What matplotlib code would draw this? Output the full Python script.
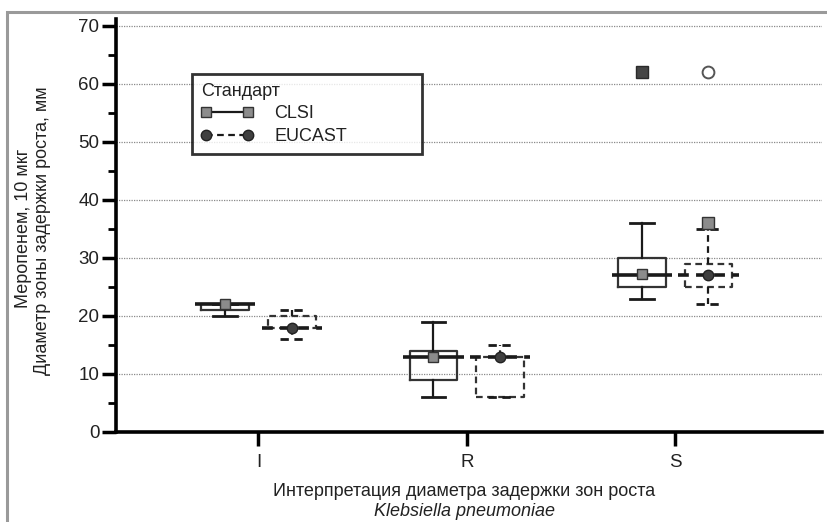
import numpy as np
import matplotlib
matplotlib.use("Agg")
import matplotlib.pyplot as plt
from matplotlib.lines import Line2D
from matplotlib.patches import Rectangle

plt.rcParams["font.family"] = ["Liberation Sans", "DejaVu Sans"]

# data (zone diameters, mm)
categories = ["I", "R", "S"]
clsi_q1 = [21, 9, 25]
clsi_med = [22, 13, 27]
clsi_q3 = [22, 14, 30]
clsi_lo = [20, 6, 23]
clsi_hi = [22, 19, 36]
clsi_mean = [22, 13, 27.3]

eucast_q1 = [18, 6, 25]
eucast_med = [18, 13, 27]
eucast_q3 = [20, 13, 29]
eucast_lo = [16, 6, 22]
eucast_hi = [21, 15, 35]
eucast_mean = [18, 13, 27]

# extra points on S
clsi_out_y = [62]
eucast_out_y = [62]
eucast_max_y = [36]


def make_stats(q1, med, q3, lo, hi, mean):
    return [dict(q1=a, med=b, q3=c, whislo=d, whishi=e, mean=f, fliers=[])
            for a, b, c, d, e, f in zip(q1, med, q3, lo, hi, mean)]


fig = plt.figure(figsize=(8.27, 5.22), dpi=100)
ax = fig.add_axes([116 / 827, 1 - 432 / 522, (822 - 116) / 827, 413 / 522])

x = np.arange(1, len(categories) + 1)
off = 0.16
bw = 0.23
mw = 0.29
cw = 0.115
dark = "#1a1a1a"
txt = "#222222"
dash = (0, (3, 2))
fs = 13

groups = [
    ("CLSI", x - off, make_stats(clsi_q1, clsi_med, clsi_q3, clsi_lo, clsi_hi, clsi_mean),
     clsi_med, "-", dict(marker="s", markerfacecolor="#8c8c8c", markeredgecolor="#333333",
                         markersize=7.5, markeredgewidth=1.0)),
    ("EUCAST", x + off, make_stats(eucast_q1, eucast_med, eucast_q3, eucast_lo, eucast_hi, eucast_mean),
     eucast_med, dash, dict(marker="o", markerfacecolor="#404040", markeredgecolor="#222222",
                            markersize=7.5, markeredgewidth=1.0)),
]

handles = []
for name, pos, stats, med, ls, mprops in groups:
    ax.bxp(stats, positions=pos, widths=bw, capwidths=cw, showfliers=False,
           showmeans=True, manage_ticks=False,
           boxprops=dict(color="#333333", linewidth=1.6, linestyle=ls),
           whiskerprops=dict(color=dark, linewidth=1.6, linestyle=ls),
           capprops=dict(color=dark, linewidth=2.0, linestyle=ls),
           medianprops=dict(linewidth=0),
           meanprops=dict(mprops, linestyle="none", zorder=5))
    ax.hlines(med, pos - mw / 2, pos + mw / 2, colors=dark, linewidth=2.6,
              linestyles=ls, zorder=4)
    handles.append(Line2D([], [], color=dark, linewidth=1.6, linestyle=ls, label=name, **mprops))

# outliers / extreme values for S
ax.plot([x[2] - off] * len(clsi_out_y), clsi_out_y, "s", color="#454545",
        markeredgecolor="#2a2a2a", markersize=8, zorder=5)
ax.plot([x[2] + off] * len(eucast_out_y), eucast_out_y, "o", markerfacecolor="white",
        markeredgecolor="#555555", markeredgewidth=1.4, markersize=8.5, zorder=5)
ax.plot([x[2] + off] * len(eucast_max_y), eucast_max_y, "s", color="#8c8c8c",
        markeredgecolor="#333333", markersize=8, zorder=5)

ax.set_xlim(0.316, 3.705)
ax.set_ylim(0, 71.2)
ax.set_xticks(x)
ax.set_xticklabels(categories)
ax.set_yticks(np.arange(0, 71, 10))
ax.set_yticks(np.arange(5, 70, 10), minor=True)

ax.yaxis.grid(True, which="major", color="#8a8a8a", linewidth=0.9, linestyle=(0, (1, 1)))
ax.set_axisbelow(True)

for s in ("top", "right"):
    ax.spines[s].set_visible(False)
for s in ("left", "bottom"):
    ax.spines[s].set_linewidth(2.6)
    ax.spines[s].set_color("black")

ax.tick_params(axis="y", which="major", length=10, width=2.5, pad=2, labelsize=13.5,
               labelcolor=txt)
ax.tick_params(axis="y", which="minor", length=5.5, width=2.0)
ax.tick_params(axis="x", which="major", length=10, width=2.5, pad=6, labelsize=13.5,
               labelcolor=txt)

leg = ax.legend(handles=handles, title="Стандарт", loc="upper left",
                bbox_to_anchor=((192 - 116) / 706, (432 - 149) / 413, 230 / 706, 75 / 413),
                mode="expand", numpoints=2, handlelength=2.9, handletextpad=1.15,
                fontsize=fs, title_fontsize=fs, frameon=True, fancybox=False,
                borderaxespad=0, labelspacing=0.3, borderpad=0.5, alignment="left")
leg.get_frame().set_edgecolor("black")
leg.get_frame().set_linewidth(2.0)
for t in leg.get_texts():
    t.set_color(txt)
leg.get_title().set_color(txt)

fig.text(24 / 827, 1 - 228 / 522, "Меропенем, 10 мкг", rotation=90, ha="center",
         va="center", fontsize=fs, color=txt)
fig.text(43 / 827, 1 - 231 / 522, "Диаметр зоны задержки роста, мм", rotation=90,
         ha="center", va="center", fontsize=fs, color=txt)
fig.text(464 / 827, 1 - 491 / 522, "Интерпретация диаметра задержки зон роста",
         ha="center", va="center", fontsize=fs, color=txt)
fig.text(464 / 827, 1 - 511 / 522, "Klebsiella pneumoniae", style="italic",
         ha="center", va="center", fontsize=fs, color=txt)

fig.patches.append(Rectangle((7 / 827, -0.05), 1.2, 1 - 12 / 522 + 0.05,
                             transform=fig.transFigure, fill=False,
                             edgecolor="#9a9a9a", linewidth=2.2))

fig.savefig("out.png", dpi=100)
